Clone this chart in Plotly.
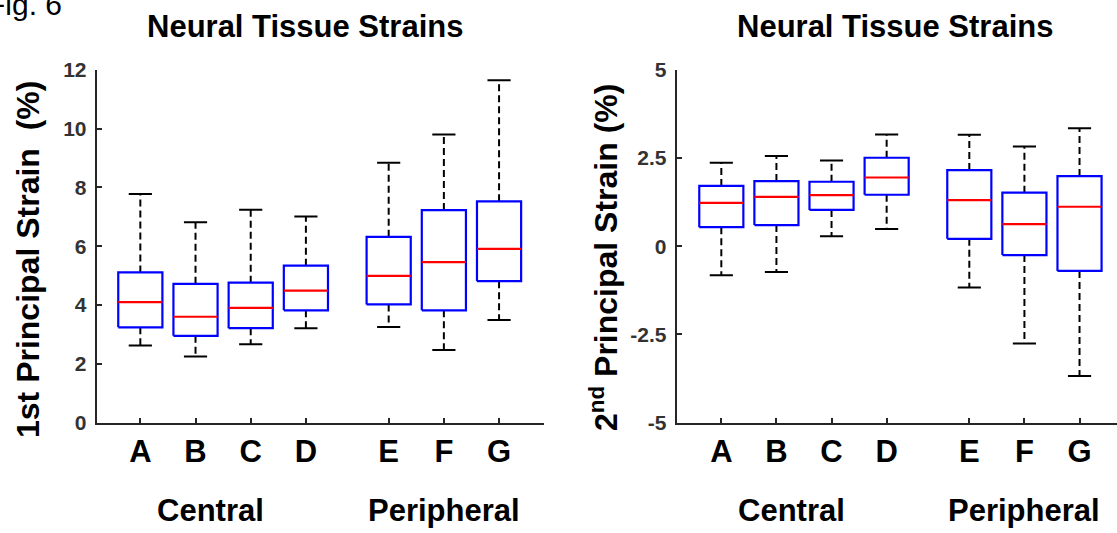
import plotly.graph_objects as go

categories = ["A", "B", "C", "D", "E", "F", "G"]
x_pos = [1, 2, 3, 4, 5.5, 6.5, 7.5]
group_labels = ["Central", "Peripheral"]
group_pos = [2.27, 6.5]

# 1st principal strain (%)
p1_upper = [7.78, 6.82, 7.24, 7.01, 8.84, 9.80, 11.65]
p1_q3 = [5.11, 4.72, 4.76, 5.34, 6.32, 7.23, 7.53]
p1_median = [4.10, 3.60, 3.90, 4.49, 4.99, 5.46, 5.91]
p1_q1 = [3.24, 2.95, 3.21, 3.82, 4.02, 3.82, 4.81]
p1_lower = [2.62, 2.25, 2.66, 3.21, 3.25, 2.47, 3.49]

# 2nd principal strain (%)
p2_upper = [2.37, 2.56, 2.43, 3.17, 3.16, 2.83, 3.35]
p2_q3 = [1.71, 1.85, 1.83, 2.51, 2.16, 1.52, 1.99]
p2_median = [1.23, 1.40, 1.45, 1.95, 1.31, 0.63, 1.12]
p2_q1 = [0.54, 0.60, 1.03, 1.46, 0.21, -0.25, -0.70]
p2_lower = [-0.82, -0.73, 0.28, 0.49, -1.17, -2.76, -3.68]

p1_ticks = [0, 2, 4, 6, 8, 10, 12]
p2_ticks = [-5, -2.5, 0, 2.5, 5]
p2_ticktext = ["-5", "-2.5", "0", "2.5", "5"]

FONT = "Liberation Sans, Arial, sans-serif"
AXC = "#262626"
BOX_HW = 0.4
CAP_HW = 0.21


def box_traces(upper, q3, med, q1, lower, xa, ya):
    bx, by, mx, my, wx, wy, cx, cy = [], [], [], [], [], [], [], []
    for p, u, h, m, l, lo in zip(x_pos, upper, q3, med, q1, lower):
        bx += [p - BOX_HW, p + BOX_HW, p + BOX_HW, p - BOX_HW, p - BOX_HW, None]
        by += [l, l, h, h, l, None]
        mx += [p - BOX_HW, p + BOX_HW, None]
        my += [m, m, None]
        wx += [p, p, None, p, p, None]
        wy += [h, u, None, l, lo, None]
        cx += [p - CAP_HW, p + CAP_HW, None, p - CAP_HW, p + CAP_HW, None]
        cy += [u, u, None, lo, lo, None]
    common = dict(mode="lines", xaxis=xa, yaxis=ya, showlegend=False, hoverinfo="skip")
    return [
        go.Scatter(x=wx, y=wy, line=dict(color="black", width=2, dash="7px,4px"), **common),
        go.Scatter(x=cx, y=cy, line=dict(color="black", width=2), **common),
        go.Scatter(x=bx, y=by, line=dict(color="#0000ff", width=2.2), **common),
        go.Scatter(x=mx, y=my, line=dict(color="#ff0000", width=2.2), **common),
    ]


fig = go.Figure()
for t in box_traces(p1_upper, p1_q3, p1_median, p1_q1, p1_lower, "x", "y"):
    fig.add_trace(t)
for t in box_traces(p2_upper, p2_q3, p2_median, p2_q1, p2_lower, "x2", "y2"):
    fig.add_trace(t)

xcommon = dict(
    tickmode="array", tickvals=x_pos, ticktext=categories,
    showline=True, linecolor=AXC, linewidth=2,
    ticks="inside", ticklen=5, tickwidth=1.5, tickcolor=AXC,
    tickfont=dict(family=FONT, size=31, color="black", weight="bold"),
    showgrid=False, zeroline=False, ticklabelstandoff=0,
)
ycommon = dict(
    showline=True, linecolor=AXC, linewidth=2,
    ticks="inside", ticklen=5, tickwidth=1.5, tickcolor=AXC,
    tickfont=dict(family=FONT, size=21, color="#333333", weight="bold"),
    showgrid=False, zeroline=False, ticklabelstandoff=4,
)

ydom = [0.2073, 0.8687]
fig.update_layout(
    width=1117, height=533,
    margin=dict(l=0, r=0, t=0, b=0, autoexpand=False),
    paper_bgcolor="white", plot_bgcolor="white",
    xaxis=dict(domain=[0.0866, 0.4873], range=[0.21, 8.32], anchor="y", **xcommon),
    yaxis=dict(domain=ydom, range=[0, 12], tickvals=p1_ticks, anchor="x", **ycommon),
    xaxis2=dict(domain=[0.6058, 1.0], range=[0.19, 8.18], anchor="y2", **xcommon),
    yaxis2=dict(domain=ydom, range=[-5, 5], tickvals=p2_ticks, ticktext=p2_ticktext,
                anchor="x2", **ycommon),
)

ann = []
bold = dict(family=FONT, size=31, color="black", weight="bold")
ann.append(dict(text="Neural Tissue Strains", x=305 / 1117, y=1 - 27 / 533, xref="paper", yref="paper",
                showarrow=False, xanchor="center", yanchor="middle", font=bold))
ann.append(dict(text="Neural Tissue Strains", x=895 / 1117, y=1 - 27 / 533, xref="paper", yref="paper",
                showarrow=False, xanchor="center", yanchor="middle", font=bold))
ann.append(dict(text="1st Principal Strain\u00a0\u00a0(%)", x=28 / 1117, y=1 - 260 / 533,
                xref="paper", yref="paper", textangle=-90, showarrow=False,
                xanchor="center", yanchor="middle", font=dict(family=FONT, size=32, color="black", weight="bold")))
ann.append(dict(text="2<sup>nd</sup> Principal Strain (%)", x=604 / 1117, y=1 - 257 / 533,
                xref="paper", yref="paper", textangle=-90, showarrow=False,
                xanchor="center", yanchor="middle", font=dict(family=FONT, size=32, color="black", weight="bold")))
for xa in ["x", "x2"]:
    for g, gp in zip(group_labels, group_pos):
        ann.append(dict(text=g, x=gp, xref=xa, y=1 - 511 / 533, yref="paper", showarrow=False,
                        xanchor="center", yanchor="middle", font=bold))
ann.append(dict(text="Fig. 6", x=64 / 1117, y=1 - 4.5 / 533, xref="paper", yref="paper", showarrow=False,
                xanchor="right", yanchor="middle", font=dict(family=FONT, size=30, color="black")))
fig.update_layout(annotations=ann)

fig.write_html("out.html")
